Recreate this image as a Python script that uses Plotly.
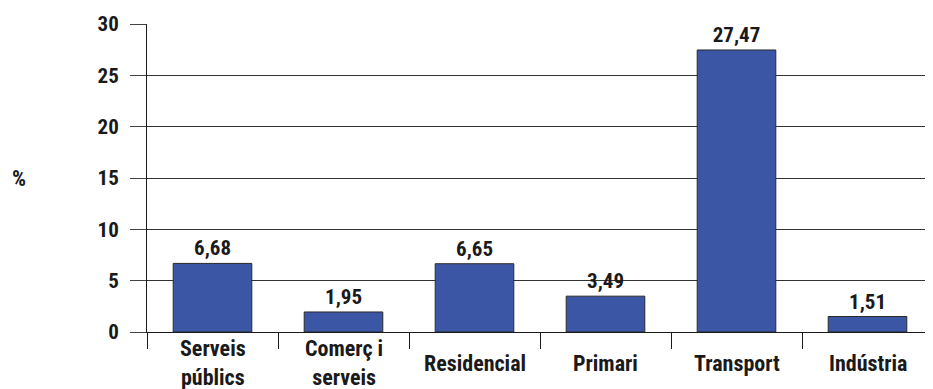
import plotly.graph_objects as go

# sectors and share (%)
sectors = ["Serveis públics", "Comerç i serveis", "Residencial", "Primari", "Transport", "Indústria"]
labels = ["Serveis<br>públics", "Comerç i<br>serveis", "Residencial", "Primari", "Transport", "Indústria"]
values = [6.68, 1.95, 6.65, 3.49, 27.47, 1.51]
y_ticks = [0, 5, 10, 15, 20, 25, 30]

font_family = "Liberation Sans Narrow, Roboto Condensed, Arial Narrow, Roboto, sans-serif"
ink = "#1a1a1a"

fig = go.Figure()
fig.add_bar(
    x=sectors,
    y=values,
    width=0.6,
    marker_color="#3B56A5",
    marker_line_color="#2a2a2a",
    marker_line_width=1,
    texttemplate="%{y:.2f}",
    textposition="outside",
    cliponaxis=False,
    textfont=dict(size=21, color=ink, family=font_family, weight=700),
)

# category labels, vertically centred under each bar
annots = [dict(
    text=lab, x=cat, xref="x", yref="paper", y=-0.102,
    xanchor="center", yanchor="middle", showarrow=False,
    font=dict(size=22, weight=700),
) for cat, lab in zip(sectors, labels)]
annots.append(dict(
    text="%", xref="paper", yref="paper", x=-128 / 786, y=0.5,
    xanchor="center", yanchor="middle", showarrow=False,
    font=dict(size=22, weight=700),
))

fig.update_layout(
    width=925,
    height=381,
    margin=dict(l=139, r=0, t=16, b=57),
    plot_bgcolor="white",
    paper_bgcolor="white",
    showlegend=False,
    separators=",.",
    font=dict(family=font_family, size=21, color=ink, weight=700),
    annotations=annots,
)

fig.update_xaxes(
    range=[-0.5, 5.5],
    showline=True, linecolor=ink, linewidth=1,
    ticks="outside", tickson="boundaries", ticklen=16, tickcolor=ink,
    showticklabels=False,
    showgrid=False,
)
fig.update_yaxes(
    range=[0, 30],
    tickvals=y_ticks,
    showline=True, linecolor=ink, linewidth=1,
    ticks="outside", ticklen=16, tickcolor="#444444",
    ticklabelstandoff=7,
    showgrid=True, gridcolor="#333333", gridwidth=1,
    zeroline=False,
)

fig.write_html("out.html")
